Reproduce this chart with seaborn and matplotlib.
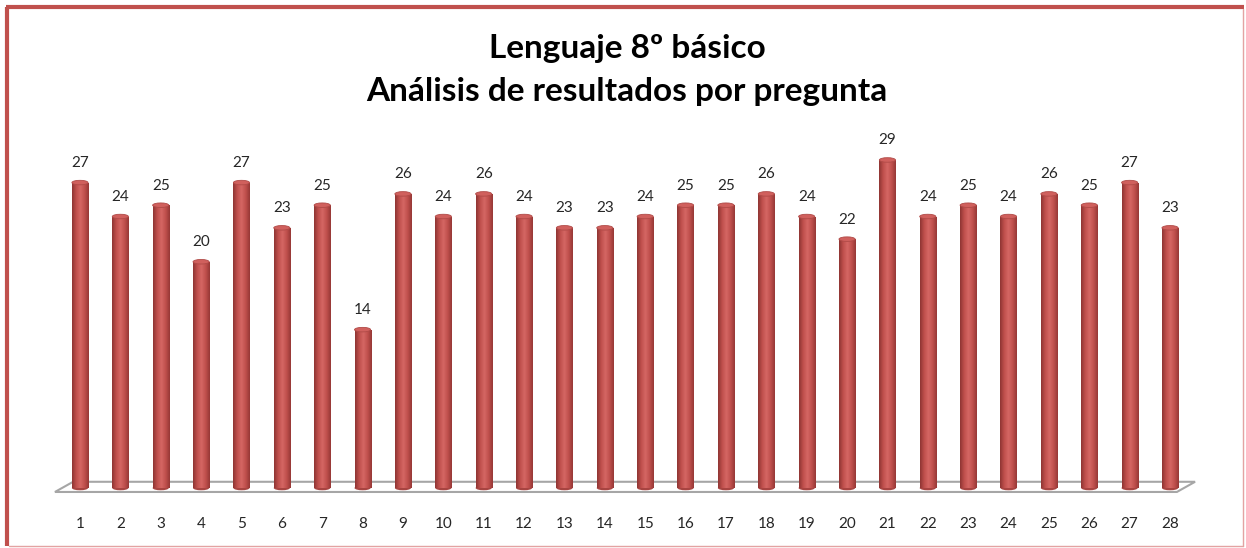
import numpy as np
import matplotlib.pyplot as plt
import seaborn as sns
from matplotlib.patches import Ellipse, Polygon
from matplotlib.lines import Line2D

sns.set_theme(style="white")
plt.rcParams['font.family'] = ['Lato', 'DejaVu Sans']

# Data
preguntas = [str(i) for i in range(1, 29)]
valores = [27, 24, 25, 20, 27, 23, 25, 14, 26, 24, 26, 24, 23, 23,
           24, 25, 25, 26, 24, 22, 29, 24, 25, 24, 26, 25, 27, 23]
titulo = "Lenguaje 8º básico\nAnálisis de resultados por pregunta"

W, H = 1246, 548
fig = plt.figure(figsize=(W / 100, H / 100), dpi=100)

# axes placed in pixel terms: x 40..1210, y 100..500 (top-down)
ax = fig.add_axes([40 / W, (H - 500) / H, 1170 / W, 400 / H])

bar_color = '#c0504d'
sns.barplot(x=preguntas, y=valores, color=bar_color, width=0.4,
            saturation=1, ax=ax, zorder=3)

ax.set_xlim(-0.99, 27.99)
ax.set_ylim(-1.06, 34.3)

# floor (3D base)
x0, x1 = -0.62, 27.62
floor = Polygon([(x0, -0.35), (x1 - 0.45, -0.35), (x1, 0.55), (x0 + 0.45, 0.55)],
                closed=True, facecolor='white', edgecolor='#a6a6a6', lw=1.5, zorder=1)
ax.add_patch(floor)

# cylinder shading
cmap = plt.matplotlib.colors.LinearSegmentedColormap.from_list(
    'cyl', ['#8f3533', '#c0504d', '#d56764', '#c0504d', '#963836'])
grad = np.linspace(0, 1, 64).reshape(1, -1)
cap_h = 0.4
for p in ax.patches:
    if p is floor:
        continue
    x, y0 = p.get_x(), p.get_y()
    w, h = p.get_width(), p.get_height()
    if w <= 0 or h <= 0:
        continue
    im = ax.imshow(grad, cmap=cmap, aspect='auto', extent=(x, x + w, 0, h),
                   zorder=3, interpolation='bilinear')
    im.set_clip_path(p)
    p.set_edgecolor('none')
    bottom = Ellipse((x + w / 2, 0), w, cap_h, facecolor='#a84441',
                     edgecolor='none', zorder=2.9)
    ax.add_patch(bottom)
    cap = Ellipse((x + w / 2, h), w, cap_h, facecolor='#d0605d',
                  edgecolor='#b04a47', lw=0.6, zorder=4)
    ax.add_patch(cap)

# data labels
for i, v in enumerate(valores):
    ax.annotate(str(v), (i, v), xytext=(0, 9), textcoords='offset points',
                ha='center', va='bottom', fontsize=11, color='#262626')

ax.tick_params(axis='x', length=0, pad=12, labelsize=11, labelcolor='#262626')
ax.set_yticks([])
ax.set_xlabel('')
ax.set_ylabel('')
for s in ax.spines.values():
    s.set_visible(False)
ax.set_facecolor('none')

fig.text(627 / W, 1 - 70 / H, titulo, ha='center', va='center',
         fontsize=24, fontweight='bold', color='black', linespacing=1.55)

# chart frame
fig.add_artist(Line2D([7 / W, 7 / W], [1 - 7 / H, 1 - 546 / H], color='#c0504d', lw=3,
                      solid_capstyle='butt'))
fig.add_artist(Line2D([5.5 / W, 1244 / W], [1 - 7 / H, 1 - 7 / H], color='#c0504d', lw=3,
                      solid_capstyle='butt'))
fig.add_artist(Line2D([1243 / W, 1243 / W], [1 - 9 / H, 1 - 546 / H], color='#e3a3a2', lw=1))
fig.add_artist(Line2D([9 / W, 1243 / W], [1 - 546 / H, 1 - 546 / H], color='#e3a3a2', lw=1))

fig.savefig('out.png', dpi=100)
